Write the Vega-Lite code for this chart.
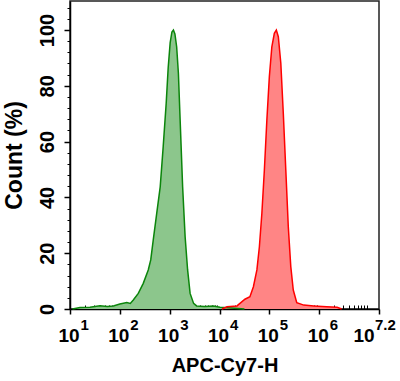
{
  "$schema": "https://vega.github.io/schema/vega-lite/v6.json",
  "width": 309,
  "height": 308,
  "autosize": {"type": "none"},
  "padding": {"left": 70, "top": 1, "right": 21, "bottom": 72},
  "background": "white",
  "config": {
    "view": {"stroke": "#222", "strokeWidth": 1.5},
    "font": "Liberation Sans",
    "axis": {"grid": false, "labelFont": "Liberation Sans", "titleFont": "Liberation Sans", "labelColor": "#000", "titleColor": "#000", "domainColor": "#000", "tickColor": "#000"}
  },
  "data": {
    "values": [
      {"series": "control", "logIntensity": 1.05, "count": 0},
      {"series": "control", "logIntensity": 1.2, "count": 0.5},
      {"series": "control", "logIntensity": 1.4, "count": 0.6},
      {"series": "control", "logIntensity": 1.6, "count": 1.2},
      {"series": "control", "logIntensity": 1.75, "count": 0.9},
      {"series": "control", "logIntensity": 1.87, "count": 1.1},
      {"series": "control", "logIntensity": 2.0, "count": 1.8},
      {"series": "control", "logIntensity": 2.14, "count": 2.3},
      {"series": "control", "logIntensity": 2.21, "count": 2.0},
      {"series": "control", "logIntensity": 2.27, "count": 3.2},
      {"series": "control", "logIntensity": 2.37, "count": 5.6},
      {"series": "control", "logIntensity": 2.47, "count": 9.2},
      {"series": "control", "logIntensity": 2.57, "count": 14.0},
      {"series": "control", "logIntensity": 2.62, "count": 17.6},
      {"series": "control", "logIntensity": 2.67, "count": 24.7},
      {"series": "control", "logIntensity": 2.74, "count": 34.3},
      {"series": "control", "logIntensity": 2.81, "count": 43.8},
      {"series": "control", "logIntensity": 2.87, "count": 58.2},
      {"series": "control", "logIntensity": 2.93, "count": 73.7},
      {"series": "control", "logIntensity": 2.97, "count": 86.5},
      {"series": "control", "logIntensity": 3.01, "count": 95.5},
      {"series": "control", "logIntensity": 3.045, "count": 99.3},
      {"series": "control", "logIntensity": 3.075, "count": 100},
      {"series": "control", "logIntensity": 3.105, "count": 98.6},
      {"series": "control", "logIntensity": 3.14, "count": 94.0},
      {"series": "control", "logIntensity": 3.175, "count": 84.5},
      {"series": "control", "logIntensity": 3.21, "count": 67.7},
      {"series": "control", "logIntensity": 3.26, "count": 43.8},
      {"series": "control", "logIntensity": 3.31, "count": 25.9},
      {"series": "control", "logIntensity": 3.36, "count": 14.0},
      {"series": "control", "logIntensity": 3.41, "count": 5.6},
      {"series": "control", "logIntensity": 3.48, "count": 2.0},
      {"series": "control", "logIntensity": 3.54, "count": 1.1},
      {"series": "control", "logIntensity": 3.7, "count": 0.9},
      {"series": "control", "logIntensity": 3.88, "count": 1.1},
      {"series": "control", "logIntensity": 4.01, "count": 0.6},
      {"series": "control", "logIntensity": 4.3, "count": 0.3},
      {"series": "control", "logIntensity": 4.5, "count": 0},
      {"series": "stained", "logIntensity": 4.05, "count": 0},
      {"series": "stained", "logIntensity": 4.15, "count": 0.8},
      {"series": "stained", "logIntensity": 4.35, "count": 1.1},
      {"series": "stained", "logIntensity": 4.41, "count": 2.0},
      {"series": "stained", "logIntensity": 4.51, "count": 3.5},
      {"series": "stained", "logIntensity": 4.61, "count": 4.4},
      {"series": "stained", "logIntensity": 4.68, "count": 8.0},
      {"series": "stained", "logIntensity": 4.75, "count": 14.0},
      {"series": "stained", "logIntensity": 4.8, "count": 22.3},
      {"series": "stained", "logIntensity": 4.85, "count": 34.3},
      {"series": "stained", "logIntensity": 4.9, "count": 49.8},
      {"series": "stained", "logIntensity": 4.95, "count": 67.7},
      {"series": "stained", "logIntensity": 5.0, "count": 83.3},
      {"series": "stained", "logIntensity": 5.05, "count": 94.0},
      {"series": "stained", "logIntensity": 5.1, "count": 98.8},
      {"series": "stained", "logIntensity": 5.14, "count": 100},
      {"series": "stained", "logIntensity": 5.18, "count": 97.6},
      {"series": "stained", "logIntensity": 5.23, "count": 88.1},
      {"series": "stained", "logIntensity": 5.28, "count": 70.1},
      {"series": "stained", "logIntensity": 5.33, "count": 49.8},
      {"series": "stained", "logIntensity": 5.38, "count": 29.5},
      {"series": "stained", "logIntensity": 5.43, "count": 15.2},
      {"series": "stained", "logIntensity": 5.48, "count": 6.8},
      {"series": "stained", "logIntensity": 5.55, "count": 2.3},
      {"series": "stained", "logIntensity": 5.69, "count": 1.4},
      {"series": "stained", "logIntensity": 5.89, "count": 1.1},
      {"series": "stained", "logIntensity": 6.15, "count": 0.8},
      {"series": "stained", "logIntensity": 6.36, "count": 0.6},
      {"series": "stained", "logIntensity": 6.45, "count": 0}
    ]
  },
  "layer": [
    {
      "transform": [{"filter": "datum.series === 'control'"}],
      "mark": {"type": "area", "color": "#8cc68c", "opacity": 1},
      "encoding": {
        "x": {"field": "logIntensity", "type": "quantitative",
          "scale": {"domain": [1, 7.2], "nice": false, "zero": false},
          "axis": {"orient": "bottom", "values": [1, 2, 3, 4, 5, 6, 7.2], "labelExpr": "'10'",
            "labelFontSize": 19, "labelFontWeight": "bold",
            "labelOffset": {"condition": {"test": "datum.value == 7.2", "value": -15.5}, "value": -1.5},
            "labelPadding": 12,
            "labelFlush": false, "labelOverlap": false,
            "tickSize": 5, "tickWidth": 1.5, "domainWidth": 1.5,
            "title": "APC-Cy7-H", "titleFontSize": 20, "titleFontWeight": "bold", "titlePadding": 10}},
        "y": {"field": "count", "type": "quantitative",
          "scale": {"domain": [0, 110.4], "nice": false},
          "axis": {"orient": "left", "values": [0, 20, 40, 60, 80, 100], "labelAngle": -90,
            "labelFontSize": 20, "labelFontWeight": "bold", "labelPadding": 7,
            "labelFlush": false, "labelOverlap": false,
            "tickSize": 6, "tickWidth": 1.5, "domainWidth": 1.5,
            "title": "Count (%)", "titleFontSize": 23, "titleFontWeight": "bold", "titlePadding": 11}}
      }
    },
    {
      "transform": [{"filter": "datum.series === 'stained'"}],
      "mark": {"type": "area", "color": "#ff8585", "opacity": 1},
      "encoding": {
        "x": {"field": "logIntensity", "type": "quantitative",
          "axis": {"orient": "bottom", "values": [1, 2, 3, 4, 5, 6, 7.2],
            "labelExpr": "datum.value == 7.2 ? '7.2' : format(datum.value, 'd')",
            "labelFontSize": 15, "labelFontWeight": "bold", "labelAlign": "left",
            "labelOffset": {"condition": {"test": "datum.value == 7.2", "value": -4.5}, "value": 10},
            "labelPadding": 8.5, "labelFlush": false, "labelOverlap": false,
            "ticks": false, "tickSize": 5, "domain": false, "title": null}},
        "y": {"field": "count", "type": "quantitative",
          "axis": {"orient": "left", "values": [4, 8, 12, 16, 24, 28, 32, 36, 44, 48, 52, 56, 64, 68, 72, 76, 84, 88, 92, 96, 104, 108],
            "labels": false, "tickSize": 3, "tickWidth": 1, "domain": false, "title": null}}
      }
    },
    {
      "mark": {"type": "line", "strokeWidth": 1.5},
      "encoding": {
        "x": {"field": "logIntensity", "type": "quantitative",
          "axis": {"orient": "bottom",
            "values": [1.301, 1.477, 1.602, 1.699, 1.778, 1.845, 1.903, 1.954,
                       2.301, 2.477, 2.602, 2.699, 2.778, 2.845, 2.903, 2.954,
                       3.301, 3.477, 3.602, 3.699, 3.778, 3.845, 3.903, 3.954,
                       4.301, 4.477, 4.602, 4.699, 4.778, 4.845, 4.903, 4.954,
                       5.301, 5.477, 5.602, 5.699, 5.778, 5.845, 5.903, 5.954,
                       6.301, 6.477, 6.602, 6.699, 6.778, 6.845, 6.903, 6.954],
            "labels": false, "tickSize": -4, "tickWidth": 1, "domain": false, "title": null}},
        "y": {"field": "count", "type": "quantitative", "axis": null},
        "color": {"field": "series", "type": "nominal",
          "scale": {"domain": ["control", "stained"], "range": ["#0b850b", "#ff0000"]}, "legend": null}
      }
    }
  ],
  "resolve": {"axis": {"x": "independent", "y": "independent"}}
}
